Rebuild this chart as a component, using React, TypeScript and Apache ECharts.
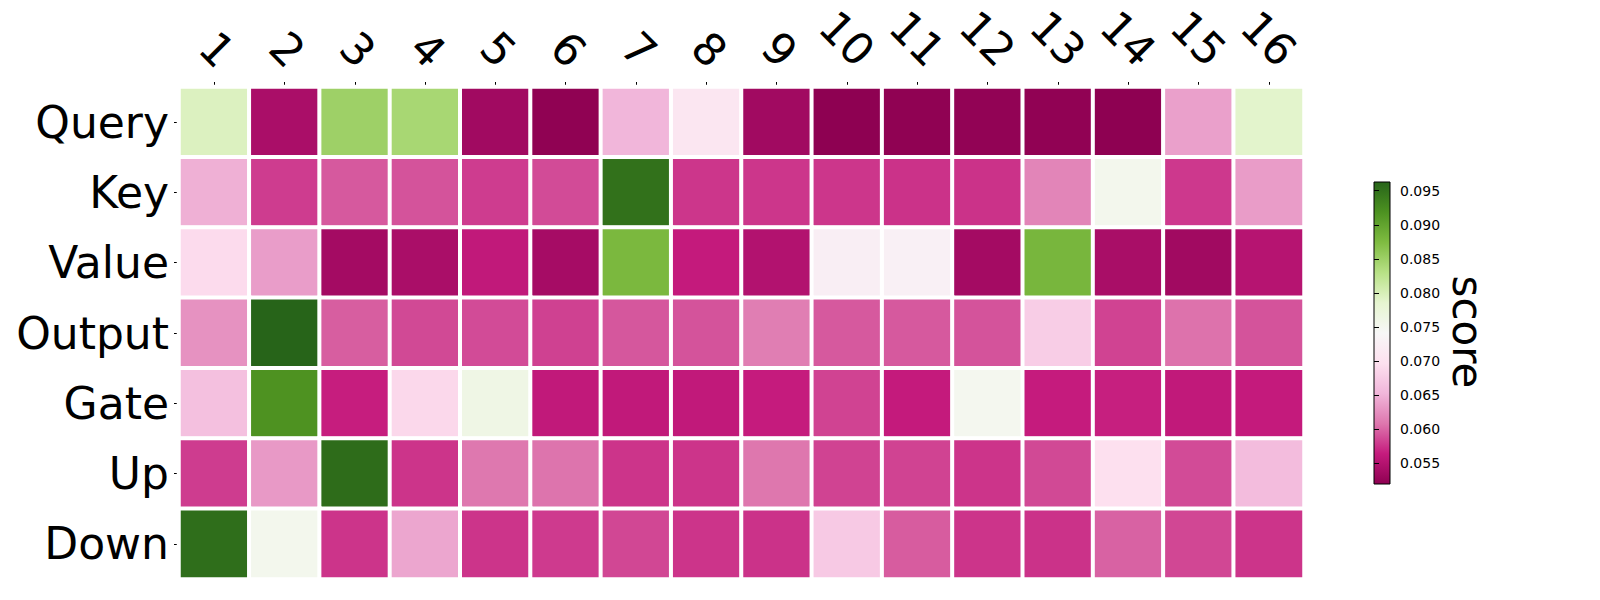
import React, { useEffect, useRef } from 'react';
import * as echarts from 'echarts';

const columns = ['1', '2', '3', '4', '5', '6', '7', '8', '9', '10', '11', '12', '13', '14', '15', '16'];
const modules = ['Query', 'Key', 'Value', 'Output', 'Gate', 'Up', 'Down'];

const queryScores = [0.0795, 0.0542, 0.0850, 0.0842, 0.0535, 0.0521, 0.0653, 0.0708, 0.0535, 0.05196, 0.0521, 0.0523, 0.0522, 0.0520, 0.0637, 0.0788];
const keyScores = [0.0648, 0.0580, 0.0594, 0.0591, 0.0580, 0.0587, 0.0950, 0.0577, 0.0577, 0.0577, 0.0575, 0.0575, 0.0618, 0.0752, 0.0578, 0.0634];
const valueScores = [0.0692, 0.0635, 0.0537, 0.0542, 0.0561, 0.0539, 0.0878, 0.0563, 0.0549, 0.0724, 0.0728, 0.0537, 0.0880, 0.0541, 0.0535, 0.0552];
const outputScores = [0.0627, 0.09628, 0.0596, 0.0586, 0.0587, 0.0582, 0.0593, 0.0591, 0.0613, 0.0594, 0.0594, 0.0591, 0.0677, 0.0583, 0.0606, 0.0591];
const gateScores = [0.0663, 0.0918, 0.0565, 0.0688, 0.0762, 0.0561, 0.0561, 0.0561, 0.0564, 0.0583, 0.0563, 0.0750, 0.0564, 0.0566, 0.0561, 0.0563];
const upScores = [0.0580, 0.0632, 0.0955, 0.0576, 0.0609, 0.0607, 0.0576, 0.0576, 0.0608, 0.0583, 0.0583, 0.0576, 0.0586, 0.0697, 0.0587, 0.0659];
const downScores = [0.0953, 0.0752, 0.0576, 0.0641, 0.0576, 0.0579, 0.0585, 0.0576, 0.0575, 0.0673, 0.0595, 0.0576, 0.0575, 0.0598, 0.0585, 0.0576];

const colorbarTicks = [0.055, 0.06, 0.065, 0.07, 0.075, 0.08, 0.085, 0.09, 0.095];
const colorbarTitle = 'score';

const PIYG = ['#8e0152', '#c51b7d', '#de77ae', '#f1b6da', '#fde0ef', '#f7f7f7', '#e6f5d0', '#b8e186', '#7fbc41', '#4d9221', '#276419'];
const FONT = 'DejaVu Sans';

export default function App() {
  const ref = useRef<HTMLDivElement>(null);
  useEffect(() => {
    document.body.style.margin = '0';
    const chart = echarts.init(ref.current!, null, { renderer: 'svg' });
    const rows = [queryScores, keyScores, valueScores, outputScores, gateScores, upScores, downScores];
    const data: [number, number, number][] = [];
    rows.forEach((r, yi) => r.forEach((v, xi) => data.push([xi, yi, v])));
    const all = rows.flat();
    const vmin = Math.min(...all);
    const vmax = Math.max(...all);

    const grid0 = { left: 179, top: 87, width: 1125, height: 492 };
    const grid1 = { left: 1374, top: 182, width: 16, height: 302 };

    chart.setOption({
      animation: false,
      backgroundColor: '#fff',
      textStyle: { fontFamily: FONT },
      grid: [
        { ...grid0, containLabel: false, outerBoundsMode: 'none' },
        { ...grid1, containLabel: false, outerBoundsMode: 'none' },
      ],
      xAxis: [
        {
          type: 'category', data: columns, position: 'top', gridIndex: 0,
          axisLine: { show: false },
          axisTick: { show: true, alignWithLabel: true, length: 5, lineStyle: { color: '#000', width: 1 } },
          axisLabel: { show: false },
          splitLine: { show: false },
        },
        { type: 'value', gridIndex: 1, show: false, min: 0, max: 1 },
      ],
      yAxis: [
        {
          type: 'category', data: modules, inverse: true, gridIndex: 0,
          axisLine: { show: false },
          axisTick: { show: true, alignWithLabel: true, length: 5, lineStyle: { color: '#000', width: 1 } },
          axisLabel: { show: true, interval: 0, fontSize: 44, color: '#000', fontFamily: FONT, margin: 10 },
          splitLine: { show: false },
        },
        {
          type: 'value', gridIndex: 1, position: 'right', min: vmin, max: vmax,
          axisLine: { show: false },
          axisTick: { show: true, length: 5, customValues: colorbarTicks, lineStyle: { color: '#000', width: 1 } },
          axisLabel: { show: true, customValues: colorbarTicks, fontSize: 14, color: '#000', fontFamily: FONT, margin: 10, formatter: (v: number) => v.toFixed(3) },
          splitLine: { show: false },
        },
      ],
      visualMap: {
        type: 'continuous', show: false, min: vmin, max: vmax, dimension: 2, seriesIndex: 0,
        inRange: { color: PIYG },
      },
      series: [
        {
          type: 'heatmap', xAxisIndex: 0, yAxisIndex: 0, data,
          itemStyle: { borderColor: '#fff', borderWidth: 4 },
          emphasis: { disabled: true },
          label: { show: false },
        },
      ],
    });

    const labelGraphics = columns.map((c, i) => {
      const px = chart.convertToPixel({ xAxisIndex: 0 }, c) as number;
      const single = c.length === 1;
      return {
        type: 'text',
        id: 'xl' + i,
        x: px + (single ? 3 : 0),
        y: single ? 49.5 : 38.5,
        rotation: -Math.PI / 4,
        silent: true,
        style: {
          text: c, fontSize: 44, fontFamily: FONT, fill: '#000',
          align: 'center', verticalAlign: 'middle', textAlign: 'center', textVerticalAlign: 'middle',
        },
      };
    });

    chart.setOption({
      graphic: [
        {
          type: 'rect', id: 'cbar', silent: true, z: -1,
          shape: { x: grid1.left, y: grid1.top, width: grid1.width, height: grid1.height },
          style: {
            fill: new echarts.graphic.LinearGradient(0, 1, 0, 0, PIYG.map((col, i) => ({ offset: i / 10, color: col }))),
            stroke: '#000', lineWidth: 1,
          },
        },
        {
          type: 'text', id: 'cbtitle', x: 1467, y: 332, rotation: -Math.PI / 2, silent: true,
          style: {
            text: colorbarTitle, fontSize: 42, fontFamily: FONT, fill: '#000',
            align: 'center', verticalAlign: 'middle', textAlign: 'center', textVerticalAlign: 'middle',
          },
        },
        ...labelGraphics,
      ],
    });

    return () => chart.dispose();
  }, []);
  return <div ref={ref} style={{ position: 'fixed', left: 0, top: 0, width: 1600, height: 600 }} />;
}
